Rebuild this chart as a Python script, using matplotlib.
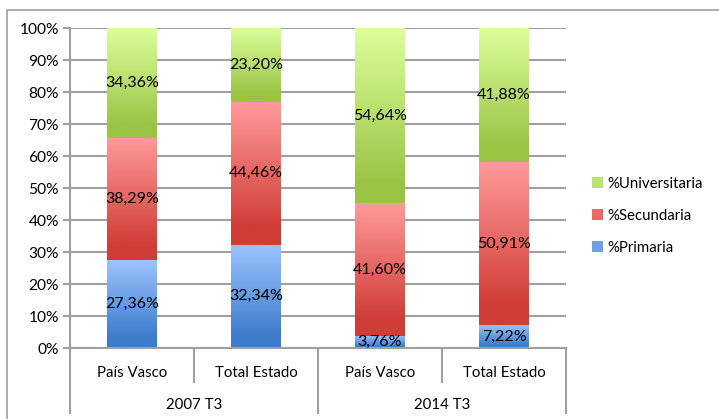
import numpy as np
import matplotlib
matplotlib.use("Agg")
import matplotlib.pyplot as plt
from matplotlib.patches import Rectangle, Patch
from matplotlib.colors import LinearSegmentedColormap
import matplotlib.transforms as mtransforms

plt.rcParams['font.family'] = ['Lato', 'DejaVu Sans']

categories = ["País Vasco", "Total Estado", "País Vasco", "Total Estado"]
groups = ["2007 T3", "2014 T3"]
primaria = [27.36, 32.34, 3.76, 7.22]
secundaria = [38.29, 44.46, 41.60, 50.91]
universitaria = [34.36, 23.20, 54.64, 41.88]
series_names = ["%Primaria", "%Secundaria", "%Universitaria"]
yticks = [0, 10, 20, 30, 40, 50, 60, 70, 80, 90, 100]

light = {"%Primaria": "#9DC4FF", "%Secundaria": "#FF9B9A", "%Universitaria": "#DCFF9C"}
dark = {"%Primaria": "#3D7CCB", "%Secundaria": "#D03C37", "%Universitaria": "#9BC445"}

W, H = 719, 419
fig = plt.figure(figsize=(W / 100, H / 100), dpi=100)
fig.patch.set_facecolor("white")
# outer chart frame
fig.patches.append(Rectangle((7 / W, -0.1), 1.2, 1 - 10 / H + 0.1, transform=fig.transFigure,
                             fill=False, edgecolor="#A6A6A6", lw=1.3))

ax = fig.add_axes([70 / W, 1 - 348 / H, (566 - 70) / W, (348 - 28) / H])
x = np.arange(len(categories))
ax.set_xlim(-0.5, len(categories) - 0.5)
ax.set_ylim(0, 100)

for yv in yticks:
    ax.axhline(yv, color="#A0A0A0", lw=1.5, zorder=0)

bottom = np.zeros(len(categories))
for name, vals in zip(series_names, [primaria, secundaria, universitaria]):
    vals = np.array(vals)
    bars = ax.bar(x, vals, width=0.4, bottom=bottom, color="none", edgecolor="none", zorder=2)
    cmap = LinearSegmentedColormap.from_list(name, [(0, dark[name]), (0.12, dark[name]), (1, light[name])])
    grad = np.linspace(0, 1, 256).reshape(-1, 1)
    for b in bars:
        x0, y0 = b.get_x(), b.get_y()
        w, h = b.get_width(), b.get_height()
        im = ax.imshow(grad, cmap=cmap, origin="lower", aspect="auto",
                       extent=[x0, x0 + w, y0, y0 + h], zorder=2, interpolation="bilinear")
        im.set_clip_path(b)
        ax.text(x0 + w / 2, y0 + h / 2, f"{h:.2f}".replace(".", ",") + "%",
                ha="center", va="center", fontsize=11.5, color="black", zorder=4)
    bottom = bottom + vals

ax.set_xlim(-0.5, len(categories) - 0.5)
ax.set_ylim(0, 100)
ax.set_yticks(yticks)
ax.set_yticklabels([f"{v}%" for v in yticks], fontsize=11.2, color="black")
ax.tick_params(axis="y", length=5, color="#A0A0A0", width=1.5, pad=3)
ax.set_xticks([])
for s in ["top", "right"]:
    ax.spines[s].set_visible(False)
ax.spines["left"].set_color("#A0A0A0")
ax.spines["left"].set_linewidth(1.5)
ax.spines["bottom"].set_color("#A0A0A0")
ax.spines["bottom"].set_linewidth(1.5)

# multi-level category axis
trans = mtransforms.blended_transform_factory(ax.transData, ax.transAxes)
ax_h = 348 - 28
def yax(py):
    return (348 - py) / ax_h
for i in range(len(categories) + 1):
    xb = i - 0.5
    end = 413 if i % 2 == 0 else 382
    ax.plot([xb, xb], [0, yax(end)], transform=trans, color="#A0A0A0", lw=1.5, clip_on=False)
for i, c in enumerate(categories):
    ax.text(i, yax(373), c, transform=trans, ha="center", va="center", fontsize=10.8, color="black")
for g, name in enumerate(groups):
    ax.text(2 * g + 0.5, yax(405), name, transform=trans, ha="center", va="center", fontsize=10.8, color="black")

# legend
handles = [Patch(facecolor=(np.array(matplotlib.colors.to_rgb(light[n])) + np.array(matplotlib.colors.to_rgb(dark[n]))) / 2)
           for n in reversed(series_names)]
leg = fig.legend(handles, list(reversed(series_names)), loc="center left",
                 bbox_to_anchor=(578 / W, 1 - 216 / H), frameon=False, fontsize=10.8,
                 handlelength=0.75, handleheight=0.75, handletextpad=0.3, labelspacing=1.2)
for t in leg.get_texts():
    t.set_color("black")

fig.savefig("out.png", dpi=100)
